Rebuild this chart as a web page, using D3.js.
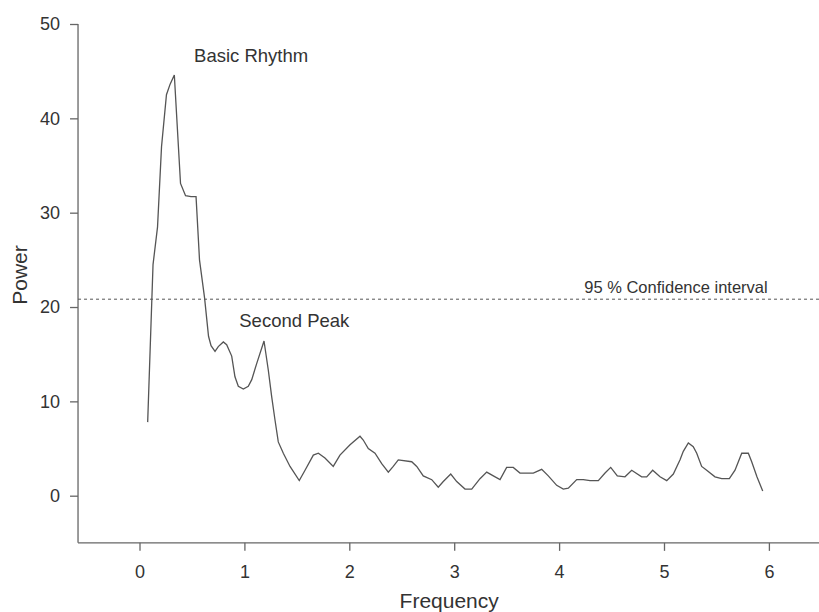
<!DOCTYPE html>
<html>
<head>
<meta charset="utf-8">
<script src="https://cdn.jsdelivr.net/npm/d3@7"></script>
<style>
  html, body { margin: 0; padding: 0; background: #fff; }
  svg { display: block; }
  text { font-family: "Liberation Sans", Arial, sans-serif; fill: #333; }
</style>
</head>
<body>
<svg id="chart" width="819" height="612"></svg>
<script>
// ---- data ----
const frequency = [
  0.078, 0.129, 0.172, 0.210, 0.257, 0.291, 0.332, 0.391, 0.439, 0.491,
  0.539, 0.572, 0.620, 0.658, 0.682, 0.720, 0.751, 0.799, 0.831, 0.879,
  0.910, 0.942, 0.990, 1.037, 1.070, 1.117, 1.187, 1.228, 1.260, 1.292,
  1.323, 1.371, 1.435, 1.523, 1.578, 1.657, 1.705, 1.768, 1.847, 1.911,
  2.007, 2.102, 2.133, 2.181, 2.245, 2.309, 2.372, 2.419, 2.467, 2.595,
  2.643, 2.705, 2.786, 2.848, 2.896, 2.967, 3.024, 3.103, 3.167, 3.246,
  3.310, 3.373, 3.437, 3.500, 3.563, 3.627, 3.754, 3.834, 3.897, 3.977,
  4.040, 4.088, 4.168, 4.231, 4.295, 4.374, 4.438, 4.492, 4.555, 4.628,
  4.692, 4.787, 4.835, 4.892, 4.962, 5.026, 5.089, 5.153, 5.184, 5.232,
  5.279, 5.312, 5.359, 5.407, 5.486, 5.550, 5.623, 5.677, 5.741, 5.804,
  5.836, 5.886, 5.941
];
const power = [
  7.8, 24.5, 28.5, 37.0, 42.5, 43.6, 44.6, 33.1, 31.8, 31.7,
  31.7, 25.0, 21.0, 16.9, 15.9, 15.3, 15.8, 16.3, 16.0, 14.8,
  12.6, 11.6, 11.3, 11.6, 12.3, 14.0, 16.4, 13.3, 10.5, 8.0,
  5.7, 4.5, 3.1, 1.6, 2.7, 4.3, 4.5, 4.0, 3.1, 4.3,
  5.4, 6.3, 5.9, 5.0, 4.5, 3.4, 2.5, 3.1, 3.8, 3.6,
  3.1, 2.1, 1.7, 0.9, 1.5, 2.3, 1.5, 0.7, 0.7, 1.8,
  2.5, 2.1, 1.7, 3.0, 3.0, 2.4, 2.4, 2.8, 2.1, 1.1,
  0.7, 0.8, 1.7, 1.7, 1.6, 1.6, 2.4, 3.0, 2.1, 2.0,
  2.7, 2.0, 2.0, 2.7, 2.0, 1.6, 2.3, 3.8, 4.7, 5.6,
  5.2, 4.5, 3.1, 2.7, 2.0, 1.8, 1.8, 2.7, 4.5, 4.5,
  3.6, 2.0, 0.5
];
const xTicks = [0, 1, 2, 3, 4, 5, 6];
const yTicks = [0, 10, 20, 30, 40, 50];
const confidenceLevel = 20.83;
const labels = [
  { text: "Basic Rhythm", f: 0.52, v: 46.0, size: 18.5 },
  { text: "Second Peak", f: 0.951, v: 17.9, size: 18.5 },
  { text: "95 % Confidence interval", f: 4.24, v: 21.5, size: 16.5 }
];

// ---- layout ----
const svg = d3.select("#chart");
const x = d3.scaleLinear().domain([0, 6]).range([139.5, 768.9]);
const y = d3.scaleLinear().domain([0, 50]).range([495.7, 24]);
const left = x(-0.586), bottom = y(-5);
const fmt = d3.format("d");

// axes
const yAxis = d3.axisLeft(y).tickValues(yTicks).tickFormat(fmt).tickSize(8).tickPadding(10).tickSizeOuter(0);
const gy = svg.append("g").attr("transform", `translate(${left},0)`).call(yAxis);
gy.select(".domain").remove();
gy.append("line").attr("x1", 0).attr("x2", 0).attr("y1", y(50)).attr("y2", bottom)
  .attr("stroke", "#666").attr("stroke-width", 1.3);
gy.selectAll(".tick line").attr("stroke", "#666").attr("stroke-width", 1.3);
gy.selectAll(".tick text").attr("font-size", 18).attr("fill", "#333")
  .style("font-family", '"Liberation Sans", Arial, sans-serif');

const xAxis = d3.axisBottom(x).tickValues(xTicks).tickFormat(fmt).tickSize(8).tickPadding(14).tickSizeOuter(0);
const gx = svg.append("g").attr("transform", `translate(0,${bottom})`).call(xAxis);
gx.select(".domain").remove();
gx.append("line").attr("x1", left).attr("x2", 819).attr("y1", 0).attr("y2", 0)
  .attr("stroke", "#666").attr("stroke-width", 1.3);
gx.selectAll(".tick line").attr("stroke", "#666").attr("stroke-width", 1.3);
gx.selectAll(".tick text").attr("font-size", 18).attr("fill", "#333")
  .style("font-family", '"Liberation Sans", Arial, sans-serif');

// axis titles
svg.append("text").attr("x", (x(0) + x(6)) / 2 - 5).attr("y", 608)
  .attr("text-anchor", "middle").attr("font-size", 21).text("Frequency");
svg.append("text").attr("transform", "translate(27,275) rotate(-90)")
  .attr("text-anchor", "middle").attr("font-size", 21).text("Power");

// confidence line
svg.append("line").attr("x1", left).attr("x2", 819)
  .attr("y1", y(confidenceLevel)).attr("y2", y(confidenceLevel))
  .attr("stroke", "#555").attr("stroke-width", 1).attr("stroke-dasharray", "3,3");

// spectrum line
const pts = frequency.map((f, i) => [f, power[i]]);
svg.append("path").datum(pts)
  .attr("fill", "none").attr("stroke", "#555").attr("stroke-width", 1.3)
  .attr("d", d3.line().x(d => x(d[0])).y(d => y(d[1])));

// annotations
svg.selectAll("text.ann").data(labels).enter().append("text")
  .attr("class", "ann")
  .attr("x", d => x(d.f)).attr("y", d => y(d.v))
  .attr("font-size", d => d.size).text(d => d.text);
</script>
</body>
</html>
